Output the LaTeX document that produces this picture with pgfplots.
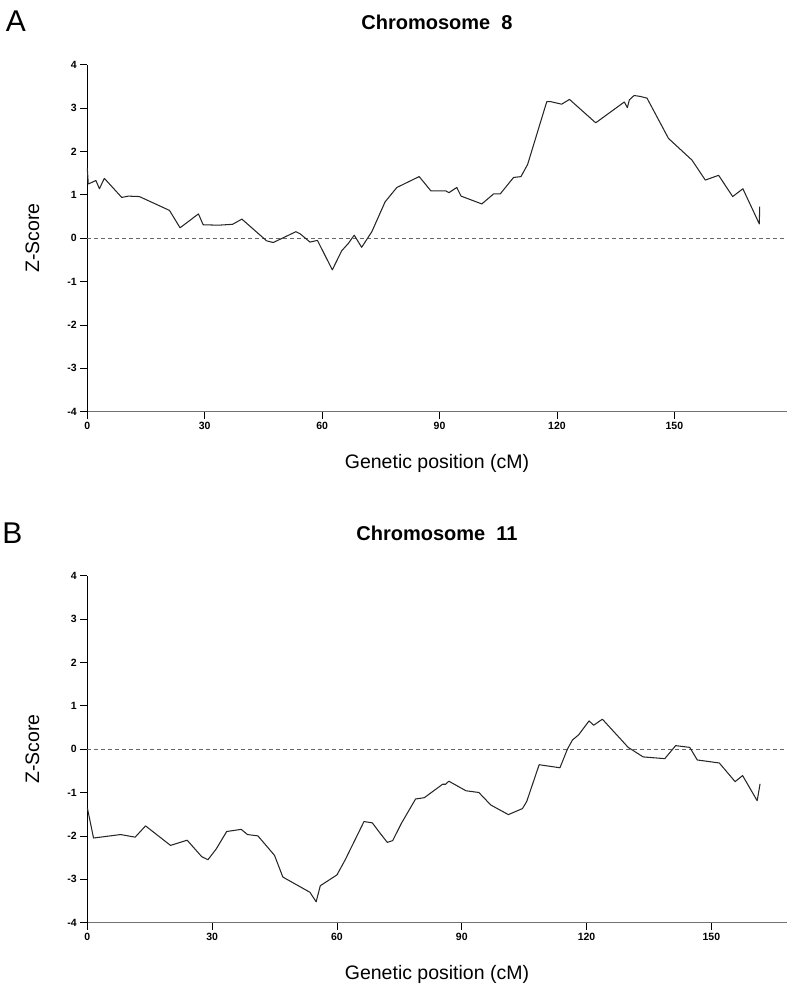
\documentclass[border=0pt]{standalone}
\usepackage{fontspec}
\setmainfont{Liberation Sans}
\usepackage{pgfplots}
\pgfplotsset{compat=1.18}
\pgfplotsset{
  zstyle/.style={
    scale only axis, width=699.4pt, height=347pt,
    ymin=-4, ymax=4,
    axis x line*=bottom, axis y line*=left,
    x axis line style={-, draw=black!55, line width=0.9pt},
    y axis line style={-, draw=black, line width=0.7pt},
    xtick={0,30,...,150}, ytick={-4,-3,...,4},
    tick align=outside, major tick length=7pt,
    tick style={black, line width=0.7pt},
    /pgf/number format/assume math mode=true,
    tick label style={font=\bfseries\fontsize{10.5}{12}\selectfont},
    xlabel={Genetic position (cM)}, ylabel={Z-Score},
    label style={font=\fontsize{19.5}{22}\selectfont},
    xlabel style={at={(axis description cs:0.5,0)}, anchor=center, yshift=-52pt},
    ylabel style={at={(axis description cs:0,0.5)}, anchor=center, yshift=55pt},
    clip=false,
  },
  zline/.style={black!85, line width=1.05pt, line join=round},
  zero/.style={black!60, line width=0.6pt, dash pattern=on 4pt off 3pt},
}
\begin{document}
\begin{tikzpicture}
\path[use as bounding box] (0pt,0pt) rectangle (800pt,-995pt);
\node[font=\fontsize{30}{34}\selectfont] at (16pt,-21pt) {A};
\node[font=\bfseries\fontsize{20}{24}\selectfont] at (437pt,-22pt) {Chromosome\ \ 8};
\begin{axis}[zstyle, at={(87.3pt,-411.7pt)}, xmin=0, xmax=178.7]
\addplot[zero] coordinates {(0,0) (178.7,0)};
\addplot[zline] coordinates {
(0,1.61) (0.25,1.25) (2.2,1.33) (3.1,1.14) (4.35,1.38) (8.8,0.94) (10.5,0.97)
(13.3,0.96) (20.3,0.67) (21,0.64) (23.7,0.24) (28.4,0.56) (29.6,0.31)
(33.5,0.30) (37.1,0.32) (39.5,0.44) (45.8,-0.06) (47.5,-0.10) (53.3,0.15)
(54.4,0.10) (56.9,-0.09) (58.8,-0.05) (62.6,-0.73) (65,-0.29) (66.7,-0.12)
(68.2,0.07) (70.1,-0.21) (72.7,0.15) (76.1,0.84) (79.1,1.17) (84.8,1.42)
(87.8,1.09) (91.6,1.09) (92.4,1.05) (94.4,1.17) (95.5,0.97) (100.8,0.79)
(103.8,1.02) (105.5,1.02) (108.9,1.40) (110.8,1.42) (112.5,1.70) (117.4,3.15)
(118.3,3.15) (121.2,3.09) (123.2,3.20) (129.9,2.66) (137.2,3.14) (138.0,3.01)
(138.5,3.19) (139.7,3.29) (141.2,3.27) (143.0,3.23) (148.5,2.30) (154.5,1.80)
(157.9,1.34) (161.3,1.45) (164.9,0.96) (167.5,1.14) (171.7,0.33) (171.8,0.73)
};
\end{axis}
\node[font=\fontsize{30}{34}\selectfont] at (12.5pt,-533pt) {B};
\node[font=\bfseries\fontsize{20}{24}\selectfont] at (437pt,-533pt) {Chromosome\ \ 11};
\begin{axis}[zstyle, at={(87.3pt,-922.6pt)}, xmin=0, xmax=168.1]
\addplot[zero] coordinates {(0,0) (168.1,0)};
\addplot[zline] coordinates {
(0,-1.35) (1.5,-2.05) (8,-1.97) (11.5,-2.03) (14,-1.77) (20,-2.22) (24,-2.1)
(27.5,-2.48) (29,-2.55) (31,-2.3) (33.5,-1.9) (37,-1.85) (38.5,-1.97) (41,-2.0)
(45,-2.45) (47,-2.95) (53.5,-3.3) (55,-3.52) (56,-3.15) (60,-2.9) (62,-2.55)
(66.5,-1.67) (68.5,-1.7) (70.3,-1.93) (72.1,-2.15) (73.4,-2.11) (75.5,-1.71)
(78.9,-1.15) (81.0,-1.12) (85.4,-0.81) (86.1,-0.81) (86.9,-0.74) (91.0,-0.96)
(94.1,-1.0) (97.0,-1.29) (101.2,-1.51) (104.6,-1.37) (105.6,-1.21) (108.6,-0.36)
(113.6,-0.43) (115.4,0.0) (116.6,0.21) (118.1,0.33) (120.6,0.65) (121.7,0.55)
(123.8,0.69) (130.0,0.04) (133.6,-0.18) (138.8,-0.22) (141.4,0.08) (144.8,0.04)
(146.6,-0.25) (151.9,-0.32) (155.7,-0.75) (157.5,-0.61) (161.0,-1.19) (161.7,-0.80)
};
\end{axis}
\end{tikzpicture}
\end{document}
